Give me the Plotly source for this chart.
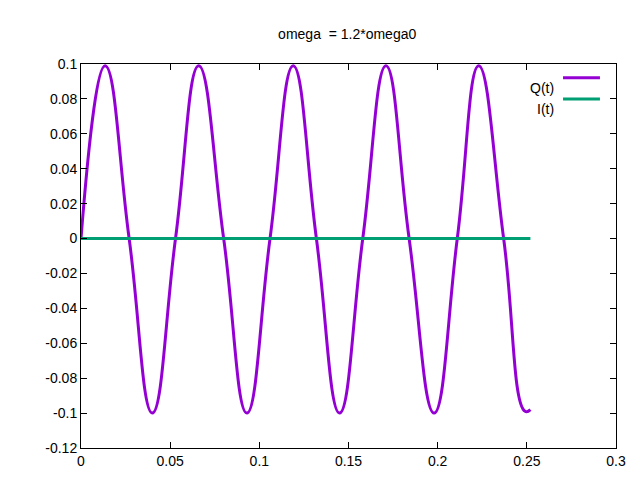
import plotly.graph_objects as go

# key points (spline joins them)
q_t = [0, 0.0135, 0.027, 0.040, 0.053, 0.066, 0.080, 0.093, 0.106, 0.119,
       0.132, 0.145, 0.158, 0.171, 0.184, 0.198, 0.211, 0.223, 0.237, 0.249, 0.252]
q_v = [0, 0.099, 0, -0.1, 0, 0.099, 0, -0.1, 0, 0.099,
       0, -0.1, 0, 0.099, 0, -0.1, 0, 0.099, 0, -0.099, -0.098]
i_t = [0, 0.05, 0.1, 0.15, 0.2, 0.252]
i_v = [0, 0, 0, 0, 0, 0]

x_ticks = [0, 0.05, 0.1, 0.15, 0.2, 0.25, 0.3]
x_labels = ["0", "0.05", "0.1", "0.15", "0.2", "0.25", "0.3"]
y_ticks = [-0.12, -0.1, -0.08, -0.06, -0.04, -0.02, 0, 0.02, 0.04, 0.06, 0.08, 0.1]
y_labels = ["-0.12", "-0.1", "-0.08", "-0.06", "-0.04", "-0.02", "0",
            "0.02", "0.04", "0.06", "0.08", "0.1"]

purple = "#9400D3"
green = "#009E73"

fig = go.Figure()
fig.add_trace(go.Scatter(x=q_t, y=q_v, mode="lines", line=dict(color=purple, width=3, shape="spline", smoothing=1.3)))
fig.add_trace(go.Scatter(x=i_t, y=i_v, mode="lines", line=dict(color=green, width=3)))

ax = dict(showgrid=False, zeroline=False, showline=True, linecolor="black", linewidth=1,
          mirror="ticks", ticks="inside", ticklen=6, tickcolor="black", automargin=False)
fig.update_xaxes(range=[0, 0.3], tickvals=x_ticks, ticktext=x_labels, **ax)
fig.update_yaxes(range=[-0.12, 0.1], tickvals=y_ticks, ticktext=y_labels, **ax)

# gnuplot-style key: text then line sample
for label, color, yp in [("Q(t)", purple, 0.964), ("I(t)", green, 0.909)]:
    fig.add_annotation(x=0.888, y=yp, xref="paper", yref="paper", text=label,
                       showarrow=False, xanchor="right", font=dict(size=14, color="black"))
    fig.add_shape(type="line", xref="paper", yref="paper", x0=0.901, x1=0.970, y0=yp, y1=yp,
                  line=dict(color=color, width=3))

fig.update_layout(
    width=640, height=480,
    title=dict(text="omega  = 1.2*omega0", x=0.53, y=0.955, font=dict(size=14, color="black"),
               automargin=False),
    showlegend=False,
    plot_bgcolor="white", paper_bgcolor="white",
    font=dict(family="Liberation Sans, Arial", size=14, color="black"),
    margin=dict(l=73, r=32, t=56, b=40, autoexpand=False),
)

fig.write_html("out.html")
